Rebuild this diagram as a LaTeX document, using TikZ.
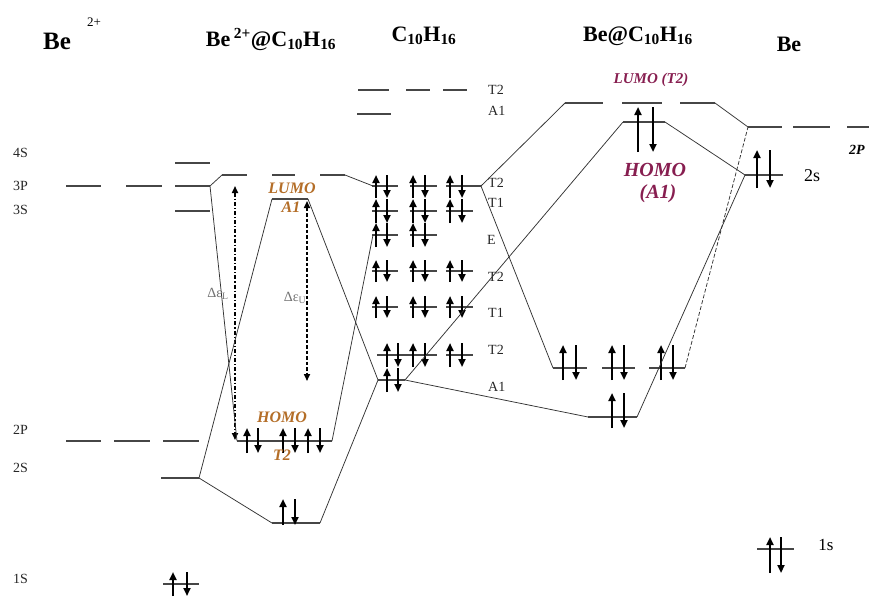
\documentclass[tikz,border=0pt]{standalone}
\usepackage{fontspec}
\setmainfont{Liberation Serif}
\usetikzlibrary{arrows.meta}
\definecolor{brn}{RGB}{180,110,40}
\definecolor{crm}{RGB}{135,30,80}
\definecolor{lvlc}{RGB}{70,70,70}
\newcommand\spinpair[4]{%
  \draw[spinarrow] (#1,#4) -- (#1,#3);
  \draw[spinarrow] (#2,#3) -- (#2,#4);}
\begin{document}
\begin{tikzpicture}[x=1pt,y=-1pt,
  lvl/.style={draw=lvlc,line width=1.4pt},
  conn/.style={draw=black!80,line width=0.75pt},
  spinarrow/.style={draw=black,line width=2.1pt,-{Triangle[length=8pt,width=7pt]}},
  gaparrow/.style={draw=black,line width=1.6pt,{Triangle[length=7pt,width=6pt]}-{Triangle[length=7pt,width=6pt]}},
  lab/.style={font=\fontsize{14}{14}\selectfont,inner sep=0pt,text=black!85},
  ttl/.style={font=\fontsize{22}{22}\selectfont\bfseries,inner sep=0pt,anchor=base},
  brnlab/.style={font=\fontsize{16}{16}\selectfont\bfseries\itshape,text=brn,inner sep=0pt},
  crmlab/.style={font=\fontsize{20}{20}\selectfont\bfseries\itshape,text=crm,inner sep=0pt},
  dlab/.style={font=\fontsize{14}{14}\selectfont,text=black!55,inner sep=0pt}
]
\useasboundingbox (0,0) rectangle (869,597);

% ---------- titles ----------
\node[ttl,anchor=base west,font=\fontsize{25}{25}\selectfont\bfseries] (tBe2) at (43,49) {Be};
\node[inner sep=0pt,font=\fontsize{13}{13}\selectfont] (tBe2s) at (94,22) {2+};
\node[ttl] (tCplx) at (271,46) {Be\,\textsuperscript{2+}@C\textsubscript{10}H\textsubscript{16}};
\node[ttl] (tC) at (424,41) {C\textsubscript{10}H\textsubscript{16}};
\node[ttl] (tBeC) at (638,41) {Be@C\textsubscript{10}H\textsubscript{16}};
\node[ttl] (tBe) at (789,51) {Be};

% ---------- vertices ----------
\coordinate (b3p) at (210,186);
\coordinate (b2s) at (199,478);
\coordinate (cT2L) at (222,175); \coordinate (cT2R) at (345,175);
\coordinate (cA1L) at (272,199); \coordinate (cA1R) at (308,199);
\coordinate (cHL) at (237,441);  \coordinate (cHR) at (332,441);
\coordinate (cBL) at (272,523);  \coordinate (cBR) at (320,523);
\coordinate (hT2L) at (373,186); \coordinate (hT2R) at (481,186);
\coordinate (hEL) at (373,235);
\coordinate (hA1L) at (378,380); \coordinate (hA1R) at (405,380);
\coordinate (dLuL) at (565,103); \coordinate (dLuR) at (715,103);
\coordinate (dHoL) at (623,122); \coordinate (dHoR) at (665,122);
\coordinate (dT2L) at (553,368); \coordinate (dT2R) at (685,368);
\coordinate (dA1L) at (588,417); \coordinate (dA1R) at (637,417);
\coordinate (e2p) at (748,127);  \coordinate (e2s) at (745,175);

% ---------- Be2+ levels ----------
\draw[lvl] (175,163) -- (210,163);
\draw[lvl] (66,186) -- (101,186) (126,186) -- (162,186) (175,186) -- (b3p);
\draw[lvl] (175,211) -- (210,211);
\draw[lvl] (66,441) -- (101,441) (114,441) -- (150,441) (163,441) -- (199,441);
\draw[lvl] (161,478) -- (b2s);
\draw[lvl] (163,584) -- (199,584);
\spinpair{173}{187}{572}{596}
\node[lab,anchor=west] (l4s) at (13,153) {4S};
\node[lab,anchor=west] (l3p) at (13,186) {3P};
\node[lab,anchor=west] (l3s) at (13,210) {3S};
\node[lab,anchor=west] (l2p) at (13,430) {2P};
\node[lab,anchor=west] (l2s) at (13,468) {2S};
\node[lab,anchor=west] (l1s) at (13,579) {1S};

% ---------- Be2+@C10H16 levels ----------
\draw[lvl] (cT2L) -- (247,175) (272,175) -- (295,175) (320,175) -- (cT2R);
\draw[lvl] (cA1L) -- (cA1R);
\draw[lvl] (cHL) -- (cHR);
\draw[lvl] (cBL) -- (cBR);
\spinpair{247}{258}{428}{453}
\spinpair{283}{295}{428}{453}
\spinpair{308}{320}{428}{453}
\spinpair{283}{295}{499}{525}
\draw[gaparrow,dash pattern=on 4pt off 2pt on 1.2pt off 2pt] (235,186) -- (235,440);
\draw[gaparrow,dash pattern=on 3.5pt off 2pt] (307,201) -- (307,381);
\node[dlab] (dL) at (218,294) {Δε\textsubscript{L}};
\node[dlab] (dU) at (295,298) {Δε\textsubscript{U}};
\node[brnlab] (lumo1) at (292,188) {LUMO};
\node[brnlab] (a1lab) at (291,207) {A1};
\node[brnlab] (homo1) at (282,417) {HOMO};
\node[brnlab] (t2lab) at (282,455) {T2};

% ---------- C10H16 levels ----------
\draw[lvl] (358,90) -- (389,90) (406,90) -- (430,90) (443,90) -- (467,90);
\draw[lvl] (357,114) -- (391,114);
\draw[lvl] (372,186) -- (398,186) (410,186) -- (437,186) (446,186) -- (hT2R);
\draw[lvl] (372,211) -- (398,211) (410,211) -- (437,211) (446,211) -- (473,211);
\draw[lvl] (372,235) -- (398,235) (410,235) -- (437,235);
\draw[lvl] (372,271) -- (398,271) (410,271) -- (437,271) (446,271) -- (473,271);
\draw[lvl] (372,307) -- (398,307) (410,307) -- (437,307) (446,307) -- (473,307);
\draw[lvl] (377,355) -- (437,355) (446,355) -- (473,355);
\draw[lvl] (hA1L) -- (hA1R);
\foreach \u/\d in {376/387,413/425,450/462}{
  \spinpair{\u}{\d}{175}{198}
  \spinpair{\u}{\d}{199}{223}
  \spinpair{\u}{\d}{260}{282}
  \spinpair{\u}{\d}{296}{318}
}
\spinpair{376}{387}{223}{247}
\spinpair{413}{425}{223}{247}
\spinpair{387}{398}{343}{367}
\spinpair{413}{425}{343}{367}
\spinpair{450}{462}{343}{367}
\spinpair{387}{398}{368}{392}
\node[lab,anchor=west] (hl1) at (488,90) {T2};
\node[lab,anchor=west] (hl2) at (488,111) {A1};
\node[lab,anchor=west] (hl3) at (488,183) {T2};
\node[lab,anchor=west] (hl4) at (488,203) {T1};
\node[lab,anchor=west] (hl5) at (487,240) {E};
\node[lab,anchor=west] (hl6) at (488,277) {T2};
\node[lab,anchor=west] (hl7) at (488,313) {T1};
\node[lab,anchor=west] (hl8) at (488,350) {T2};
\node[lab,anchor=west] (hl9) at (488,387) {A1};

% ---------- Be@C10H16 levels ----------
\draw[lvl] (dLuL) -- (603,103) (622,103) -- (662,103) (680,103) -- (dLuR);
\draw[lvl] (dHoL) -- (dHoR);
\draw[lvl] (dT2L) -- (587,368) (602,368) -- (635,368) (649,368) -- (dT2R);
\draw[lvl] (dA1L) -- (dA1R);
\spinpair{638}{653}{107}{152}
\spinpair{563}{576}{345}{380}
\spinpair{612}{624}{345}{380}
\spinpair{661}{673}{345}{380}
\spinpair{612}{624}{393}{428}
\node[crmlab,font=\fontsize{15}{15}\selectfont\bfseries\itshape] (lumo2) at (651,80) {LUMO (T2)};
\node[crmlab] (homo2) at (655,170) {HOMO};
\node[crmlab] (a1b) at (658,194) {(A1)};

% ---------- Be levels ----------
\draw[lvl] (e2p) -- (782,127) (793,127) -- (830,127) (847,127) -- (869,127);
\draw[lvl] (e2s) -- (783,175);
\draw[lvl] (757,549) -- (794,549);
\spinpair{757}{770}{150}{188}
\spinpair{770}{781}{537}{573}
\node[inner sep=0pt,font=\fontsize{14}{14}\selectfont\bfseries\itshape] (l2P) at (857,150) {2P};
\node[inner sep=0pt,font=\fontsize{18}{18}\selectfont] (l2sB) at (812,176) {2s};
\node[inner sep=0pt,font=\fontsize{17}{17}\selectfont] (l1sB) at (826,545) {1s};

% ---------- connectors ----------
\draw[conn] (b3p) -- (cT2L);
\draw[conn] (b3p) -- (cHL);
\draw[conn] (b2s) -- (cA1L);
\draw[conn] (b2s) -- (cBL);
\draw[conn] (cT2R) -- (hT2L);
\draw[conn] (cA1R) -- (hA1L);
\draw[conn] (cHR) -- (hEL);
\draw[conn] (cBR) -- (hA1L);
\draw[conn] (hT2R) -- (dLuL);
\draw[conn] (hT2R) -- (dT2L);
\draw[conn] (hA1R) -- (dHoL);
\draw[conn] (hA1R) -- (dA1L);
\draw[conn] (dLuR) -- (e2p);
\draw[conn] (dHoR) -- (e2s);
\draw[conn] (dA1R) -- (e2s);
\draw[conn,dash pattern=on 4pt off 2pt] (dT2R) -- (e2p);
\end{tikzpicture}
\end{document}
